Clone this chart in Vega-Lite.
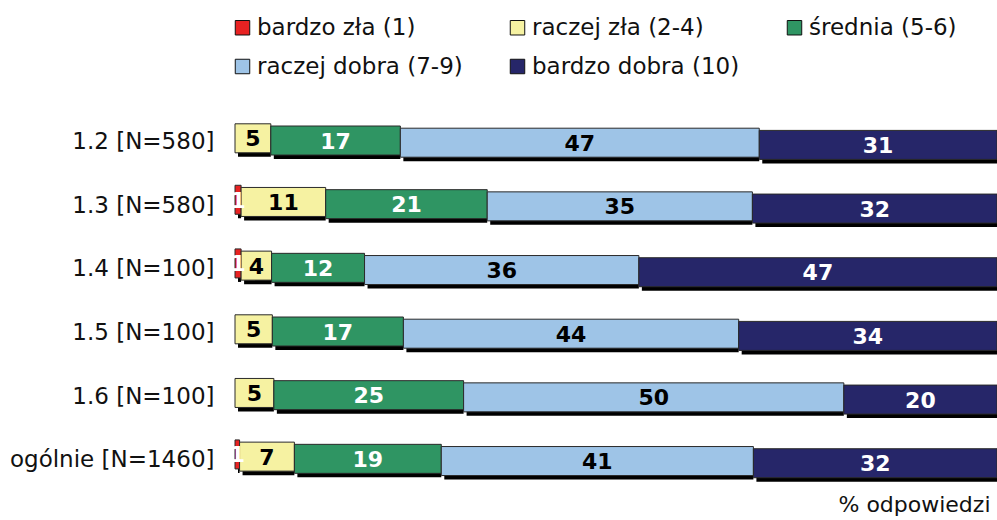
{
  "$schema": "https://vega.github.io/schema/vega-lite/v6.json",
  "width": 762,
  "height": 382,
  "autosize": "none",
  "padding": {"left": 235, "top": 110, "right": 0, "bottom": 28},
  "background": "white",
  "config": {
    "view": {"stroke": null},
    "font": "DejaVu Sans"
  },
  "data": {
    "values": [
      {"row": "1.2 [N=580]", "cat": "bardzo zła (1)", "value": 0},
      {"row": "1.2 [N=580]", "cat": "raczej zła (2-4)", "value": 4.7},
      {"row": "1.2 [N=580]", "cat": "średnia (5-6)", "value": 17},
      {"row": "1.2 [N=580]", "cat": "raczej dobra (7-9)", "value": 47.1},
      {"row": "1.2 [N=580]", "cat": "bardzo dobra (10)", "value": 31.2},
      {"row": "1.3 [N=580]", "cat": "bardzo zła (1)", "value": 0.8},
      {"row": "1.3 [N=580]", "cat": "raczej zła (2-4)", "value": 11.1},
      {"row": "1.3 [N=580]", "cat": "średnia (5-6)", "value": 21.2},
      {"row": "1.3 [N=580]", "cat": "raczej dobra (7-9)", "value": 34.8},
      {"row": "1.3 [N=580]", "cat": "bardzo dobra (10)", "value": 32.1},
      {"row": "1.4 [N=100]", "cat": "bardzo zła (1)", "value": 0.8},
      {"row": "1.4 [N=100]", "cat": "raczej zła (2-4)", "value": 4},
      {"row": "1.4 [N=100]", "cat": "średnia (5-6)", "value": 12.2},
      {"row": "1.4 [N=100]", "cat": "raczej dobra (7-9)", "value": 36},
      {"row": "1.4 [N=100]", "cat": "bardzo dobra (10)", "value": 47},
      {"row": "1.5 [N=100]", "cat": "bardzo zła (1)", "value": 0},
      {"row": "1.5 [N=100]", "cat": "raczej zła (2-4)", "value": 4.9},
      {"row": "1.5 [N=100]", "cat": "średnia (5-6)", "value": 17.2},
      {"row": "1.5 [N=100]", "cat": "raczej dobra (7-9)", "value": 44},
      {"row": "1.5 [N=100]", "cat": "bardzo dobra (10)", "value": 33.9},
      {"row": "1.6 [N=100]", "cat": "bardzo zła (1)", "value": 0},
      {"row": "1.6 [N=100]", "cat": "raczej zła (2-4)", "value": 5.1},
      {"row": "1.6 [N=100]", "cat": "średnia (5-6)", "value": 24.9},
      {"row": "1.6 [N=100]", "cat": "raczej dobra (7-9)", "value": 49.9},
      {"row": "1.6 [N=100]", "cat": "bardzo dobra (10)", "value": 20.1},
      {"row": "ogólnie [N=1460]", "cat": "bardzo zła (1)", "value": 0.6},
      {"row": "ogólnie [N=1460]", "cat": "raczej zła (2-4)", "value": 7.2},
      {"row": "ogólnie [N=1460]", "cat": "średnia (5-6)", "value": 19.3},
      {"row": "ogólnie [N=1460]", "cat": "raczej dobra (7-9)", "value": 41},
      {"row": "ogólnie [N=1460]", "cat": "bardzo dobra (10)", "value": 32}
    ]
  },
  "transform": [
    {"window": [{"op": "row_number", "as": "idx"}]},
    {"filter": "datum.value > 0"},
    {"stack": "value", "groupby": ["row"], "sort": [{"field": "idx", "order": "ascending"}], "offset": "normalize", "as": ["x0", "x1"]}
  ],
  "encoding": {
    "y": {
      "field": "row",
      "type": "nominal",
      "sort": null,
      "scale": {"paddingInner": 0, "paddingOuter": 0},
      "axis": {
        "title": null,
        "domain": false,
        "ticks": false,
        "labelFontSize": 23,
        "labelColor": "#111111",
        "labelPadding": 21,
        "labelLimit": 400,
        "labelFont": "DejaVu Sans"
      }
    }
  },
  "layer": [
    {
      "mark": {"type": "bar", "height": 29, "color": "black", "xOffset": 3},
      "encoding": {
        "x": {
          "field": "x0",
          "type": "quantitative",
          "title": "% odpowiedzi",
          "scale": {"domain": [0, 1], "nice": false, "zero": true},
          "axis": {
            "title": "% odpowiedzi",
            "labels": false,
            "ticks": false,
            "domain": false,
            "grid": false,
            "titleFontSize": 22,
            "titleFontWeight": "normal",
            "titleColor": "#111111",
            "titleAnchor": "end",
            "titleAlign": "right",
            "titlePadding": 2,
            "titleX": 755
          }
        },
        "x2": {"field": "x1"},
        "yOffset": {
          "field": "cat",
          "type": "nominal",
          "scale": {
            "type": "point",
            "domain": ["bardzo zła (1)", "raczej zła (2-4)", "średnia (5-6)", "raczej dobra (7-9)", "bardzo dobra (10)"],
            "range": [29, 40]
          }
        }
      }
    },
    {
      "mark": {"type": "bar", "height": 29, "stroke": "#2a2a2a", "strokeWidth": 1},
      "encoding": {
        "x": {"field": "x0", "type": "quantitative", "title": "% odpowiedzi"},
        "x2": {"field": "x1"},
        "yOffset": {
          "field": "cat",
          "type": "nominal",
          "scale": {
            "type": "point",
            "domain": ["bardzo zła (1)", "raczej zła (2-4)", "średnia (5-6)", "raczej dobra (7-9)", "bardzo dobra (10)"],
            "range": [25, 36]
          }
        },
        "color": {
          "field": "cat",
          "type": "nominal",
          "scale": {
            "domain": ["bardzo zła (1)", "raczej dobra (7-9)", "raczej zła (2-4)", "bardzo dobra (10)", "średnia (5-6)"],
            "range": ["#e82222", "#9ec4e7", "#f6f2a2", "#262669", "#2f9563"]
          },
          "legend": {
            "title": null,
            "orient": "none",
            "legendX": -4,
            "legendY": -94,
            "columns": 3,
            "columnPadding": 43,
            "rowPadding": 15,
            "gridAlign": "each",
            "symbolType": "square",
            "symbolSize": 210,
            "symbolStrokeColor": "#111111",
            "symbolStrokeWidth": 1,
            "symbolOpacity": 1,
            "labelFontSize": 23,
            "labelFont": "DejaVu Sans",
            "labelColor": "#111111",
            "labelOffset": 3,
            "labelLimit": 400
          }
        }
      }
    },
    {
      "transform": [
        {"fold": ["x0", "x1"], "as": ["edge", "xv"]},
        {"aggregate": [{"op": "mean", "field": "xv", "as": "xm"}, {"op": "max", "field": "value", "as": "value"}], "groupby": ["row", "cat"]}
      ],
      "mark": {"type": "text", "fontSize": 22, "fontWeight": "bold", "font": "DejaVu Sans", "baseline": "middle", "align": "center"},
      "encoding": {
        "x": {"field": "xm", "type": "quantitative", "title": "% odpowiedzi"},
        "yOffset": {
          "field": "cat",
          "type": "nominal",
          "scale": {
            "type": "point",
            "domain": ["bardzo zła (1)", "raczej zła (2-4)", "średnia (5-6)", "raczej dobra (7-9)", "bardzo dobra (10)"],
            "range": [26, 37]
          }
        },
        "text": {"field": "value", "type": "quantitative", "format": ".0f"},
        "color": {
          "condition": {"test": "datum.cat === 'średnia (5-6)' || datum.cat === 'bardzo dobra (10)' || datum.cat === 'bardzo zła (1)'", "value": "white"},
          "value": "black"
        }
      }
    }
  ],
  "resolve": {"scale": {"yOffset": "independent"}}
}
